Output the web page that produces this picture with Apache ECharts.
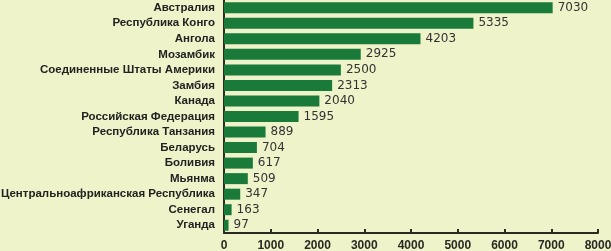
<!DOCTYPE html>
<html><head><meta charset="utf-8">
<script src="https://cdn.jsdelivr.net/npm/echarts@6/dist/echarts.min.js"></script>
<style>html,body{margin:0;padding:0;background:#eef3c9;}#c{width:611px;height:251px;}</style>
</head><body><div id="c"></div>
<script>
const categories = ["Австралия","Республика Конго","Ангола","Мозамбик","Соединенные Штаты Америки","Замбия","Канада","Российская Федерация","Республика Танзания","Беларусь","Боливия","Мьянма","Центральноафриканская Республика","Сенегал","Уганда"];
const values = [7030,5335,4203,2925,2500,2313,2040,1595,889,704,617,509,347,163,97];
const xTicks = [0,1000,2000,3000,4000,5000,6000,7000,8000];

const chart = echarts.init(document.getElementById('c'), null, {renderer:'canvas'});
chart.setOption({
  backgroundColor:'#eef3c9',
  animation:false,
  grid:{left:224,right:13,top:0,bottom:18,containLabel:false,outerBoundsMode:'none'},
  xAxis:{type:'value',min:xTicks[0],max:xTicks[xTicks.length-1],interval:1000,
    axisLine:{show:true,lineStyle:{color:'#2a2a22',width:2}},
    axisTick:{show:true,inside:true,length:4,lineStyle:{color:'#2a2a22',width:2}},
    splitLine:{show:false},
    axisLabel:{color:'#2a2a22',fontWeight:'bold',fontSize:12,fontFamily:'Liberation Sans',margin:7,
      formatter:function(v){return String(v);}}},
  yAxis:{type:'category',data:categories,inverse:true,
    axisLine:{show:true,lineStyle:{color:'#2a2a22',width:2}},
    axisTick:{show:false},
    axisLabel:{interval:0,hideOverlap:false,color:'#222',fontWeight:'bold',fontSize:11.5,fontFamily:'Liberation Sans',margin:9}},
  series:[{type:'bar',data:values,barWidth:11,
    itemStyle:{color:'#1a7a3a'},
    label:{show:true,position:'right',distance:5,color:'#333',fontSize:12,fontFamily:'DejaVu Sans'}}]
});
</script></body></html>
